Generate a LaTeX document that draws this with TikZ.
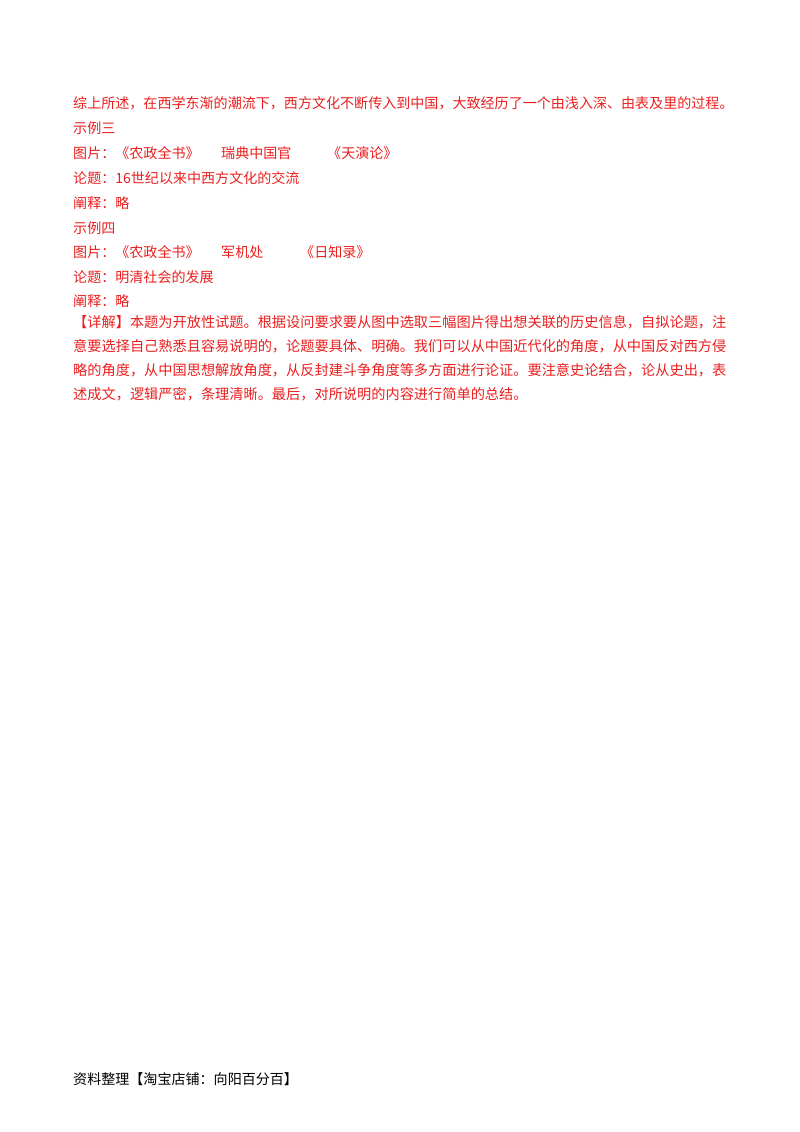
\documentclass[tikz,border=0pt]{standalone}
\usepackage{fontspec}
\newfontfamily\cjk{Noto Sans CJK SC}
\definecolor{myred}{RGB}{235,30,30}
\tikzset{t/.style={anchor=west,inner sep=0pt,text=myred,font=\cjk\fontsize{14.05}{14}\selectfont},
tj/.style={t,font=\cjk\fontsize{14.2}{14}\selectfont}}
\begin{document}
\begin{tikzpicture}[x=1pt,y=-1pt]
\useasboundingbox (0,0) rectangle (800,1132);
\node[t] (l1) at (73,103) {综上所述，在西学东渐的潮流下，西方文化不断传入到中国，大致经历了一个由浅入深、由表及里的过程。};
\node[t] (l2) at (73,128) {示例三};
\node[t] (l3) at (73,153) {图片：《农政全书》};
\node[t] (l3b) at (221,153) {瑞典中国官};
\node[t] (l3c) at (327,153) {《天演论》};
\node[t] (l4) at (73,178) {论题：16世纪以来中西方文化的交流};
\node[t] (l5) at (73,203) {阐释：略};
\node[t] (l6) at (73,228) {示例四};
\node[t] (l7) at (73,252) {图片：《农政全书》};
\node[t] (l7b) at (221,252) {军机处};
\node[t] (l7c) at (300,252) {《日知录》};
\node[t] (l8) at (73,277) {论题：明清社会的发展};
\node[t] (l9) at (73,301) {阐释：略};
\node[tj] (l10) at (73,322) {【详解】本题为开放性试题。根据设问要求要从图中选取三幅图片得出想关联的历史信息，自拟论题，注};
\node[tj] (l11) at (73,346) {意要选择自己熟悉且容易说明的，论题要具体、明确。我们可以从中国近代化的角度，从中国反对西方侵};
\node[tj] (l12) at (73,370) {略的角度，从中国思想解放角度，从反封建斗争角度等多方面进行论证。要注意史论结合，论从史出，表};
\node[tj] (l13) at (73,394) {述成文，逻辑严密，条理清晰。最后，对所说明的内容进行简单的总结。};
\node[t,text=black] (f) at (73,1079) {资料整理【淘宝店铺：向阳百分百】};
\end{tikzpicture}
\end{document}
